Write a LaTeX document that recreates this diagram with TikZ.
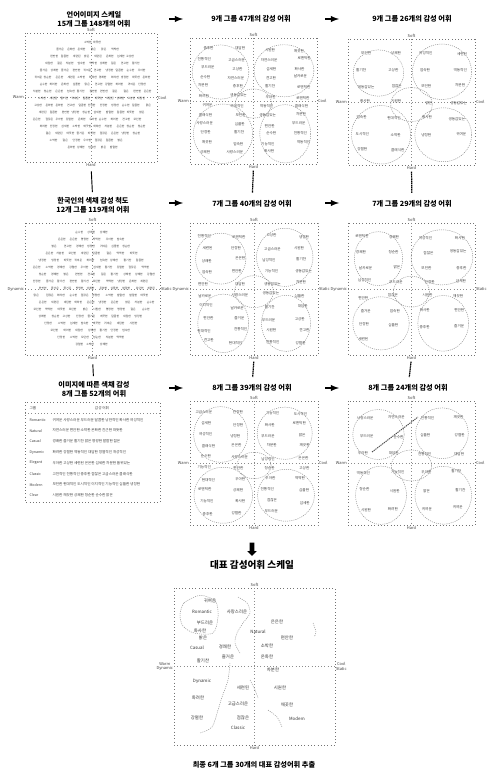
\documentclass[tikz,border=0pt]{standalone}
\usepackage{fontspec}
\setmainfont{Noto Sans CJK KR}
\usetikzlibrary{positioning,shapes.arrows}
\begin{document}
\begin{tikzpicture}[
        x=0.75pt, y=-0.75pt,
        font=\fontsize{3}{3.4}\selectfont
    ]
    \tikzset{
        ttl/.style = {align=center, inner sep=0.5pt, font=\fontsize{5.4}{6.8}\selectfont\bfseries},
        scalebox/.style = {draw=black!55, dotted, line width=0.45pt},
        axis/.style = {draw=black!45, dotted, line width=0.4pt},
        axlab/.style = {inner sep=0.6pt, align=center, text=black!75, font=\fontsize{3}{3.3}\selectfont},
        wd/.style = {inner sep=0.2pt, text=black!75, font=\fontsize{2.7}{3}\selectfont},
        cwd/.style = {inner sep=0.1pt, text=black!80, font=\fontsize{2.1}{2.3}\selectfont},
        fwd/.style = {inner sep=0.3pt, text=black!80, font=\fontsize{3.3}{3.6}\selectfont},
        grp/.style = {draw=black!45, dash pattern=on 0.8pt off 0.8pt, line width=0.35pt},
        flow/.style = {-latex, line width=1.1pt},
        vsolid/.style = {line width=0.7pt, shorten <=3pt, shorten >=3pt},
        vlink/.style = {line width=0.9pt, dash pattern=on 1pt off 0.4pt, shorten <=1pt, shorten >=5pt},
        bigarrow/.style = {single arrow, fill=black, rotate=-90, inner sep=1.6pt,
            single arrow head extend=1.7pt, minimum height=10pt},
    }
    \useasboundingbox (0,0) rectangle (488,773);
    \pgfmathsetseed{12}
    \pgfmathdeclarerandomlist{words}{{귀여운}{사랑스러운}{로맨틱한}{부드러운}{온화한}{우아한}
        {섬세한}{여성적인}{화사한}{밝은}{경쾌한}{즐거운}{활기찬}{생동감있는}{화려한}{강렬한}
        {역동적인}{대담한}{자연스러운}{편안한}{소박한}{차분한}{은은한}{고상한}{점잖은}
        {고급스러운}{클래식한}{전통적인}{중후한}{남성적인}{세련된}{도시적인}{모던한}
        {현대적인}{시원한}{깨끗한}{상쾌한}{청순한}{순수한}{단정한}{이지적인}{냉정한}
        {딱딱한}{견고한}{날카로운}{심플한}{기능적인}{엄숙한}}
    \pgfmathdeclarerandomlist{short}{{밝은}{맑은}{귀여운}{온화한}{우아한}{화려한}{경쾌한}
        {활기찬}{소박한}{차분한}{은은한}{고상한}{점잖은}{세련된}{모던한}{시원한}{깨끗한}
        {상쾌한}{청순한}{순수한}{단정한}{냉정한}{딱딱한}{견고한}{심플한}{엄숙한}{강렬한}
        {대담한}{편안한}{즐거운}{섬세한}{젊은}{달콤한}{따뜻한}{명랑한}{발랄한}}
    %
    \node[ttl] at (94,19) (t11) {언어이미지 스케일\\15개 그룹 148개의 어휘};
    \node[ttl] at (251,19) (t12) {9개 그룹 47개의 감성 어휘};
    \node[ttl] at (412,19) (t13) {9개 그룹 26개의 감성 어휘};
    \node[ttl] at (93,205) (t21) {한국인의 색채 감성 척도\\12개 그룹 119개의 어휘};
    \node[ttl] at (252,204) (t22) {7개 그룹 40개의 감성 어휘};
    \node[ttl] at (412,204) (t23) {7개 그룹 29개의 감성 어휘};
    \node[ttl] at (94,389) (t31) {이미지에 따른 색채 감성\\8개 그룹 52개의 어휘};
    \node[ttl] at (252,388) (t32) {8개 그룹 39개의 감성 어휘};
    \node[ttl] at (408,388) (t33) {8개 그룹 24개의 감성 어휘};
    %
    \coordinate (a11) at (169,19);  \coordinate (a12) at (183,19);
    \coordinate (a13) at (325,19);  \coordinate (a14) at (339,19);
    \coordinate (a21) at (169,203); \coordinate (a22) at (183,203);
    \coordinate (a23) at (325,203); \coordinate (a24) at (339,203);
    \coordinate (a31) at (169,388); \coordinate (a32) at (183,388);
    \coordinate (a33) at (325,388); \coordinate (a34) at (339,388);
    \draw[flow] (a11) -- (a12);
    \draw[flow] (a13) -- (a14);
    \draw[flow] (a21) -- (a22);
    \draw[flow] (a23) -- (a24);
    \draw[flow] (a31) -- (a32);
    \draw[flow] (a33) -- (a34);
    %
    \foreach \n/\xl/\yt/\xr/\yb/\wl/\el in {
            11/25/33/157/162/Warm/Cool, 12/190/38/317/164/Warm/Cool, 13/348/39/475/165/Warm/Cool,
            21/25/223/160/355/Dynamic/Static, 22/190/223/318/355/Dynamic/Static,
            23/348/223/475/355/Dynamic/Static,
            32/190/401/318/525/Warm/Cool, 33/348/401/475/525/Warm/Cool,
            F/174/588/335/745/{Warm\\Dynamic}/{Cool\\Static}} {
        \draw[scalebox] (\xl,\yt) rectangle (\xr,\yb);
        \node[axlab, above] (soft\n) at ({(\xl+\xr)/2},\yt) {Soft};
        \node[axlab, below] (hard\n) at ({(\xl+\xr)/2},\yb) {Hard};
        \node[axlab, left] (west\n) at (\xl,{(\yt+\yb)/2}) {\wl};
        \node[axlab, right] (east\n) at (\xr,{(\yt+\yb)/2}) {\el};
        \draw[axis] (soft\n) -- (hard\n);
        \draw[axis] (west\n) -- (east\n);
    }
    %
    \foreach \cx/\cy/\ax/\ay/\dx/\c in {91/97/62/59/11/a, 92/289/64/61/12/b} {
        \foreach \r in {0,...,17} {
            \foreach \k in {0,...,12} {
                \pgfmathsetmacro\px{\cx-\ax+3+\k*\dx+mod(\r,2)*\dx/2+(rnd-0.5)*2}
                \pgfmathsetmacro\py{\cy-\ay+4+\r*7}
                \pgfmathsetmacro\inside{((\px-\cx)/\ax)^2+((\py-\cy)/\ay)^2<0.92}
                \ifdim\inside pt>0.5pt
                    \pgfmathrandomitem{\w}{short}
                    \node[cwd] (\c\r-\k) at (\px,\py) {\w};
                \fi
            }
        }
    }
    %
    \foreach \xl/\yt/\xr/\yb/\m [count=\n] in {190/38/317/164/47, 348/39/475/165/26,
            190/223/318/355/40, 348/223/475/355/29, 190/401/318/525/39, 348/401/475/525/24} {
        \pgfmathtruncatemacro\nr{ceil(\m/4)}
        \foreach \i in {1,...,\m} {
            \pgfmathtruncatemacro\col{mod(\i-1,4)}
            \pgfmathtruncatemacro\row{(\i-1)/4}
            \pgfmathsetmacro\px{\xl+(\col+0.5)*(\xr-\xl)/4+(rnd-0.5)*6}
            \pgfmathsetmacro\py{\yt+7+(\row+0.5)*(\yb-\yt-14)/\nr+(rnd-0.5)*3}
            \pgfmathrandomitem{\w}{words}
            \node[wd] (w\n-\i) at (\px,\py) {\w};
        }
        \foreach \fx/\fy/\rx/\ry in {.24/.27/24/23, .74/.26/26/25, .5/.52/16/13,
                .26/.76/25/26, .75/.76/24/25} {
            \draw[grp] ({\xl+\fx*(\xr-\xl)},{\yt+\fy*(\yb-\yt)})
                ellipse [x radius={\rx+rnd*5}, y radius={\ry+rnd*5}];
        }
    }
    \draw[line width=0.7pt, dash pattern=on 1pt off 0.6pt, black!70] (372,452) -- (418,417);
    %
    \draw[scalebox] (25,402) rectangle (160,502);
    \node[wd, anchor=west] (th1) at (29,408) {그룹};
    \node[wd] (th2) at (102,408) {감성 어휘};
    \draw[axis] (25,413) -- (160,413);
    \foreach \g/\ws [count=\j] in {
            Romantic/귀여운\ 사랑스러운\ 부드러운\ 달콤한\ 낭만적인\ 화사한\ 여성적인,
            Natural/자연스러운\ 편안한\ 소박한\ 온화한\ 친근한\ 따뜻한,
            Casual/경쾌한\ 즐거운\ 활기찬\ 밝은\ 명랑한\ 발랄한\ 젊은,
            Dynamic/화려한\ 강렬한\ 역동적인\ 대담한\ 정열적인\ 개성적인,
            Elegant/우아한\ 고상한\ 세련된\ 은은한\ 섬세한\ 차분한\ 품위있는,
            Classic/고전적인\ 전통적인\ 중후한\ 점잖은\ 고급스러운\ 클래식한,
            Modern/모던한\ 현대적인\ 도시적인\ 이지적인\ 기능적인\ 심플한\ 냉정한,
            Clear/시원한\ 깨끗한\ 상쾌한\ 청순한\ 순수한\ 맑은} {
        \node[wd, anchor=west] (tg\j) at (29,{409+\j*10.8}) {\g};
        \node[wd, anchor=west] (tw\j) at (52,{409+\j*10.8}) {\ws};
    }
    %
    \draw[vsolid] (hard11) -- (t21);
    \draw[vlink] (hard12) -- (t22);
    \draw[vlink] (hard13) -- (t23);
    \draw[vsolid] (hard21) -- (t31);
    \draw[vlink] (hard22) -- (t32);
    \draw[vlink] (hard23) -- (t33);
    %
    \node[bigarrow] at (252,548) (down) {};
    \node[ttl, font=\fontsize{7.2}{8}\selectfont\bfseries] at (252,565) (t4) {대표 감성어휘 스케일};
    \node[ttl] at (254,765) (cap) {최종 6개 그룹 30개의 대표 감성어휘 추출};
    %
    \foreach \x/\y/\w [count=\i] in {210/601/귀여운, 202/612/Romantic, 237/612/사랑스러운,
            205/623/부드러운, 277/622/은은한, 200/631/화사한, 258/632/Natural, 287/638/편안한,
            203/638/밝은, 197/648/Casual, 225/647/경쾌한, 267/646/소박한, 228/657/즐거운,
            267/657/온화한, 203/661/활기찬, 273/670/차분한, 202/681/Dynamic, 243/688/세련된,
            280/688/시원한, 198/698/화려한, 238/704/고급스러운, 287/705/깨끗한, 197/718/강렬한,
            243/718/점잖은, 297/719/Modern, 238/728/Classic} {
        \node[fwd] (f\i) at (\x,\y) {\w};
    }
    \draw[grp] plot[smooth cycle] coordinates {(197,596) (184,603) (180,615) (183,626)
        (194,633) (213,633) (218,617) (216,602) (205,596)};
    \draw[grp] plot[smooth] coordinates {(238,597) (247,603) (250,613) (243,623) (237,633)
        (235,643) (240,653)};
    \draw[grp] plot[smooth] coordinates {(230,663) (228,680) (222,697) (218,710) (212,727)
        (200,733)};
    \draw[grp] plot[smooth] coordinates {(250,680) (255,690) (258,698)};
    \draw[grp] plot[smooth] coordinates {(268,710) (277,717) (282,727)};
    \draw[grp] plot[smooth] coordinates {(313,623) (316,632) (314,637)};
\end{tikzpicture}
\end{document}
